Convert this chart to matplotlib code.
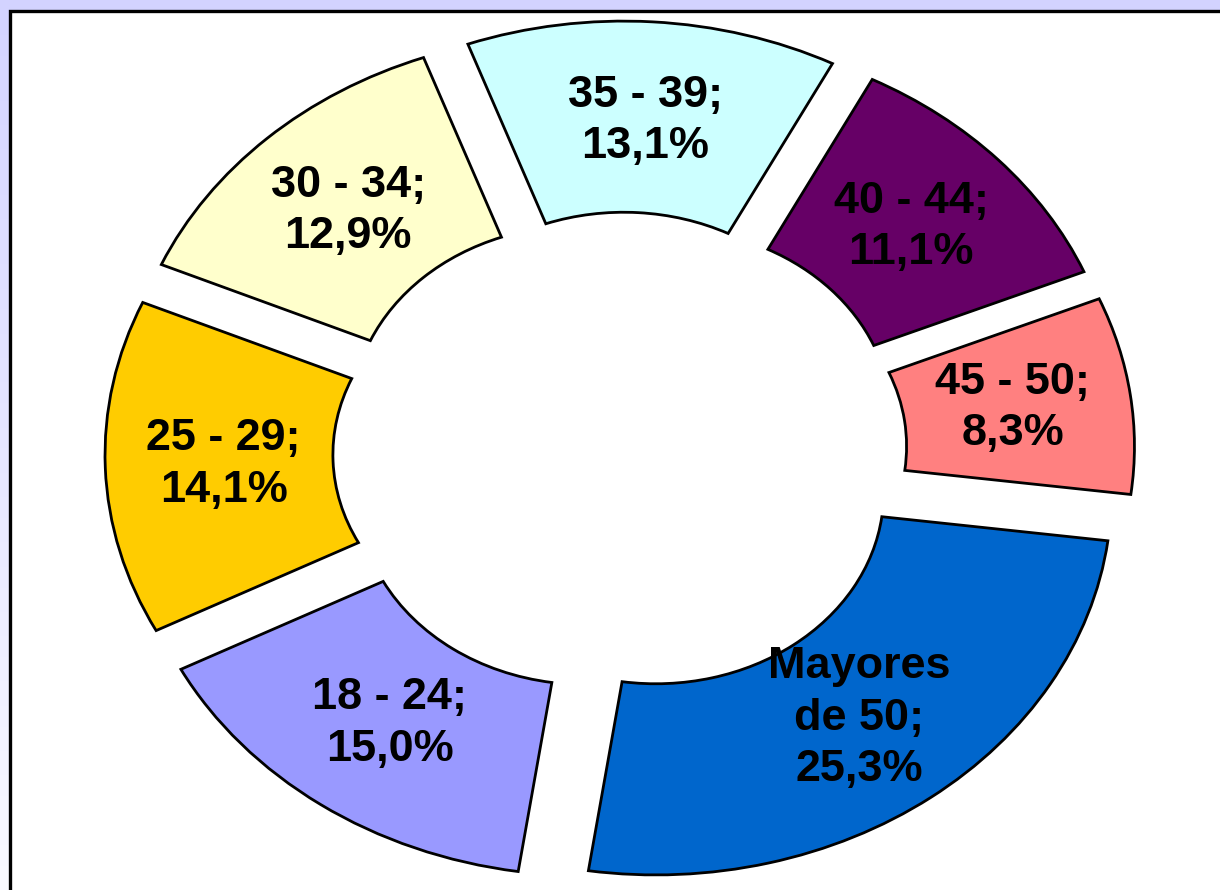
import numpy as np
import matplotlib
matplotlib.use("Agg")
import matplotlib.pyplot as plt
from matplotlib.patches import Rectangle

# age groups and their share (%)
groups = ["18 - 24", "25 - 29", "30 - 34", "35 - 39", "40 - 44", "45 - 50", "Mayores\nde 50"]
shares = [15.0, 14.1, 12.9, 13.1, 11.1, 8.3, 25.3]
colors = ["#9999FF", "#FFCC00", "#FFFFCC", "#CCFFFF", "#660066", "#FF8080", "#0066CC"]

labels = [g + ";\n" + ("%.1f%%" % s).replace(".", ",") for g, s in zip(groups, shares)]

plt.rcParams["font.family"] = ["Liberation Sans", "DejaVu Sans"]

fig = plt.figure(figsize=(12.2, 8.9), dpi=100)

# lavender background, fading towards the bottom
bg = fig.add_axes([0, 0, 1, 1], zorder=0)
grad = np.linspace(0, 1, 256).reshape(-1, 1)
top = np.array([0.83, 0.83, 1.0])
bottom = np.array([0.98, 0.98, 1.0])
img = top + (bottom - top) * grad[:, :, None]
bg.imshow(img, aspect="auto", extent=[0, 1, 0, 1])
bg.set_axis_off()

# white plot area with black frame (runs off right/bottom edges)
fig.patches.append(Rectangle((10 / 1220, -0.05), 1.1, 1.05 - 11 / 890,
                             transform=fig.transFigure, facecolor="white",
                             edgecolor="black", linewidth=2.4, zorder=1))

ax = fig.add_axes([0, 0, 1, 1], zorder=2)
ax.patch.set_visible(False)

expl = 0.13
wedges, texts = ax.pie(shares, colors=colors, labels=labels,
                       startangle=-98.5, counterclock=False,
                       explode=[expl] * len(shares), radius=1.0,
                       labeldistance=0.74,
                       wedgeprops=dict(width=0.5, edgecolor="black", linewidth=2.0),
                       textprops=dict(ha="center", va="center", ma="center",
                                      fontsize=32.4, fontweight="bold", color="black",
                                      linespacing=1.32))

ax.set_aspect("auto")
px_x = 515.0 / (1 + expl)
px_y = 432.0 / (1 + expl)
cx, cy = 620.0, 453.0
ax.set_xlim(-cx / px_x, (1220 - cx) / px_x)
ax.set_ylim(-(890 - cy) / px_y, cy / px_y)
ax.set_axis_off()

fig.savefig("out.png", dpi=100)
